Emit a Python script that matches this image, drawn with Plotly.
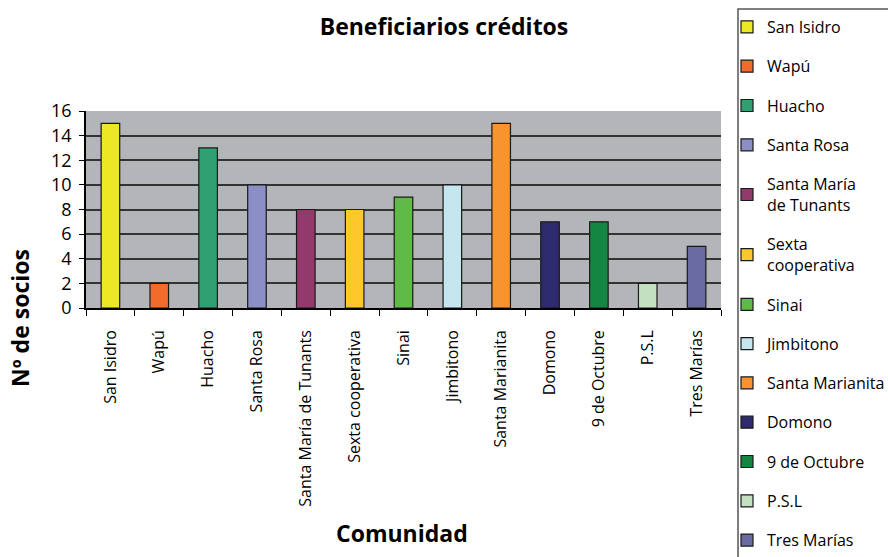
import plotly.graph_objects as go

categories = ["San Isidro", "Wapú", "Huacho", "Santa Rosa", "Santa María de Tunants",
              "Sexta cooperativa", "Sinai", "Jimbitono", "Santa Marianita", "Domono",
              "9 de Octubre", "P.S.L", "Tres Marías"]
legend_labels = ["San Isidro", "Wapú", "Huacho", "Santa Rosa", "Santa María<br>de Tunants",
                 "Sexta<br>cooperativa", "Sinai", "Jimbitono", "Santa Marianita", "Domono",
                 "9 de Octubre", "P.S.L", "Tres Marías"]
values = [15, 2, 13, 10, 8, 8, 9, 10, 15, 7, 7, 2, 5]
colors = ["#ece824", "#f26b2b", "#2fa072", "#8b8fc6", "#933a6d", "#fec82b", "#5fba46",
          "#c4e6ef", "#f7942e", "#2e2a6e", "#138641", "#c3e1c1", "#6a6ba0"]
y_ticks = [0, 2, 4, 6, 8, 10, 12, 14, 16]

FONT = "Open Sans"
W, H = 888, 557
L, R, T, B = 86, 167, 111, 249
pw, ph = W - L - R, H - T - B

def px_x(p):
    return (p - L) / pw

def px_y(p):
    return (H - B - p) / ph

fig = go.Figure()
for cat, lab, v, c in zip(categories, legend_labels, values, colors):
    fig.add_trace(go.Bar(x=[cat], y=[v], name=lab, legendgroup=cat,
                         marker=dict(color=c, line=dict(color="#1a1a1a", width=1.2))))

fig.update_layout(
    width=W, height=H,
    margin=dict(l=L, r=R, t=T, b=B, autoexpand=False),
    paper_bgcolor="white", plot_bgcolor="#b4b5b9",
    barmode="overlay", bargap=0.62,
    font=dict(family=FONT, color="black"),
    title=dict(text="<b>Beneficiarios créditos</b>", x=0.5, xref="container", xanchor="center",
               y=1 - 27 / H, yref="container", yanchor="middle",
               font=dict(family=FONT, size=23, color="black")),
    legend=dict(x=px_x(727), xanchor="left", y=px_y(10), yanchor="top",
                bgcolor="rgba(0,0,0,0)", borderwidth=0, tracegroupgap=15.5,
                maxheight=600,
                font=dict(family=FONT, size=16, color="black"), traceorder="grouped"),
    xaxis=dict(categoryorder="array", categoryarray=categories,
               tickangle=-90, tickson="boundaries", ticks="outside", ticklen=6,
               tickcolor="black", showline=True, linecolor="black", linewidth=1.5,
               showgrid=False, tickfont=dict(family=FONT, size=16, color="black"),
               ticklabelstandoff=14),
    yaxis=dict(range=[0, 16], tickvals=y_ticks, ticks="outside", ticklen=5,
               tickcolor="black", showline=True, linecolor="black", linewidth=1.5,
               showgrid=True, gridcolor="#333333", gridwidth=1.5, zeroline=False,
               tickfont=dict(family=FONT, size=18, color="black"), ticklabelstandoff=4),
    annotations=[
        dict(text="<b>Nº de socios</b>", x=px_x(20), y=px_y(318), xref="paper", yref="paper",
             textangle=-90, showarrow=False, xanchor="center", yanchor="middle",
             font=dict(family=FONT, size=23, color="black")),
        dict(text="<b>Comunidad</b>", x=px_x(402), y=px_y(533), xref="paper", yref="paper",
             showarrow=False, xanchor="center", yanchor="middle",
             font=dict(family=FONT, size=23, color="black")),
    ],
    shapes=[dict(type="rect", xref="paper", yref="paper",
                 x0=px_x(738), x1=px_x(900), y0=px_y(570), y1=px_y(9),
                 line=dict(color="#555555", width=1.5), fillcolor="rgba(0,0,0,0)")],
)

fig.write_html("out.html", config={"displayModeBar": False},
               post_script="document.body.style.margin='0px';")
